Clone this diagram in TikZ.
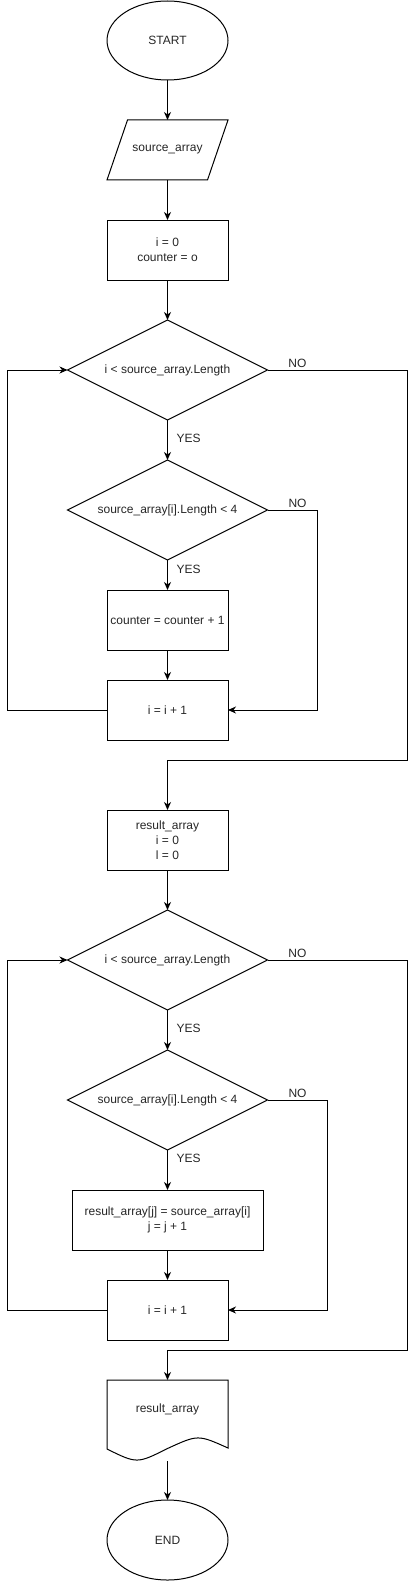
\documentclass[tikz,border=0pt]{standalone}
\usepackage{fontspec}
\setmainfont{Liberation Sans}
\usepackage{tikz}
\usetikzlibrary{shapes.geometric, arrows.meta}

\begin{document}
\begin{tikzpicture}[
  x=1pt, y=-1pt,
  every node/.style={font=\fontsize{12}{15}\selectfont, text=black!85, inner sep=0pt, outer sep=0pt},
  term/.style={draw, ellipse, line width=1pt, minimum width=121pt, minimum height=79pt},
  iobox/.style={rectangle, minimum width=121pt, minimum height=60pt},
  proc/.style={draw, rectangle, line width=1pt, minimum width=121pt, minimum height=60pt, align=center},
  dec/.style={draw, diamond, shape aspect=2, line width=1pt, minimum width=200pt, minimum height=100pt},
  docbox/.style={rectangle, minimum width=121pt, text height=32pt, text depth=49pt},
  lbl/.style={inner sep=2pt},
  arr/.style={draw, line width=1pt, -{Stealth[length=8pt, width=7pt, inset=2.5pt]}}
]
\useasboundingbox (0,0) rectangle (416,1581);

\node[term] (start) at (167.5,40.5) {START};
\node[iobox] (src) at (167.5,150) {source\_array};
\draw[line width=1pt] ([xshift=20.5pt]src.north west) -- (src.north east)
  -- ([xshift=-20.5pt]src.south east) -- (src.south west) -- cycle;
\node[proc] (init) at (167.5,250) {i = 0\\counter = o};
\node[dec] (d1) at (167.5,370) {i < source\_array.Length};
\node[dec] (d2) at (167.5,510) {source\_array[i].Length < 4};
\node[proc] (cnt) at (167.5,620) {counter = counter + 1};
\node[proc] (inc1) at (167.5,710) {i = i + 1};

\node[proc] (res) at (167.5,840) {result\_array\\i = 0\\l = 0};
\node[dec] (d3) at (167.5,960) {i < source\_array.Length};
\node[dec] (d4) at (167.5,1100) {source\_array[i].Length < 4};
\node[proc, minimum width=191pt] (upd) at (167.5,1220) {result\_array[j] = source\_array[i]\\j = j + 1};
\node[proc] (inc2) at (167.5,1310) {i = i + 1};

\node[docbox] (doc) at (167.5,1420.5) {result\_array};
\draw[line width=1pt] (doc.north west) -- (doc.north east) -- ([yshift=13pt]doc.south east)
  .. controls ([xshift=-30pt, yshift=26.5pt]doc.south east) .. ([yshift=12.5pt]doc.south)
  .. controls ([xshift=30pt, yshift=-2.8pt]doc.south west) .. ([yshift=12pt]doc.south west) -- cycle;
\node[term, minimum height=80pt] (end) at (167.5,1540) {END};

\draw[arr] (start) -- (src);
\draw[arr] (src) -- (init);
\draw[arr] (init) -- (d1);
\draw[arr] (d1) -- node[lbl, right=7pt, pos=0.45] {YES} (d2);
\draw[arr] (d2) -- node[lbl, right=7pt, pos=0.3] {YES} (cnt);
\draw[arr] (cnt) -- (inc1);
\draw[arr] (d2.east) -- node[lbl, above, pos=0.6] {NO} ++(50,0) |- (inc1.east);
\draw[arr] (inc1.west) -- ++(-100,0) |- (d1.west);
\draw[arr] (d1.east) -- node[lbl, above, pos=0.214] {NO} ++(140,0) -- ++(0,390) -| (res.north);

\draw[arr] (res) -- (d3);
\draw[arr] (d3) -- node[lbl, right=7pt, pos=0.46] {YES} (d4);
\draw[arr] (d4) -- node[lbl, right=7pt, pos=0.22] {YES} (upd);
\draw[arr] (upd) -- (inc2);
\draw[arr] (d4.east) -- node[lbl, above, pos=0.5] {NO} ++(60,0) |- (inc2.east);
\draw[arr] (inc2.west) -- ++(-100,0) |- (d3.west);
\draw[arr] (d3.east) -- node[lbl, above, pos=0.214] {NO} ++(140,0) -- ++(0,390) -| (doc.north);
\draw[arr] (doc) -- (end);
\end{tikzpicture}
\end{document}
